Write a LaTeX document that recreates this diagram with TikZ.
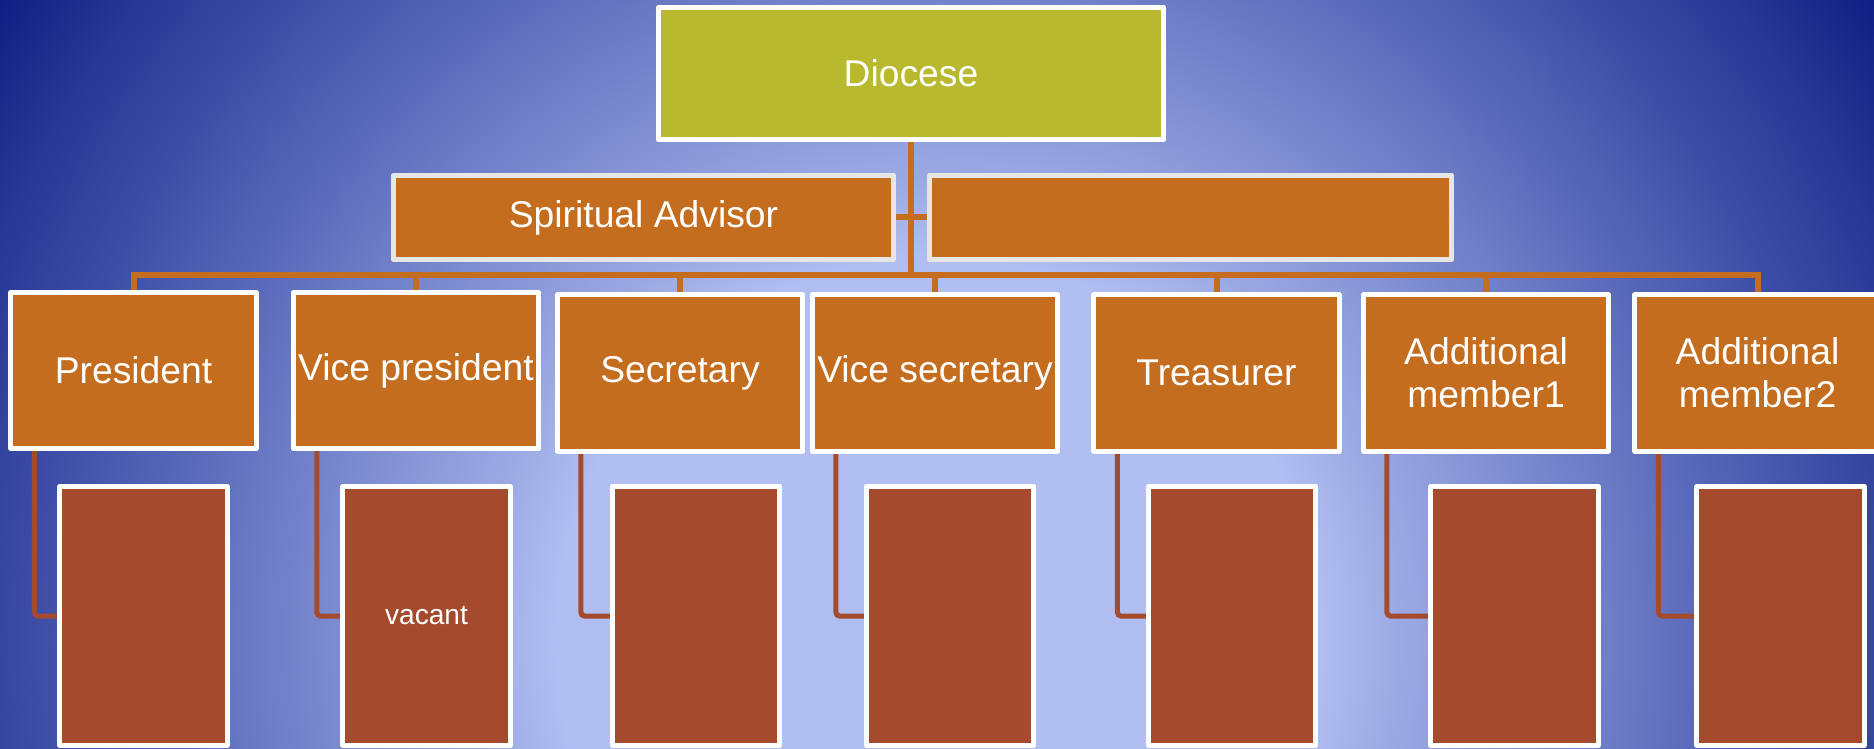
\documentclass[tikz,border=0pt]{standalone}
\usepackage{fontspec}
\setmainfont{Liberation Sans}

\definecolor{bgcore}{HTML}{B0BEF2}
\definecolor{bgsoft}{HTML}{9AA8E2}
\definecolor{bgmid}{HTML}{7282CA}
\definecolor{bgdeep}{HTML}{3E4EA6}
\definecolor{bgdark}{HTML}{2B3C98}
\definecolor{bgnavy}{HTML}{0E1F82}
\definecolor{olivebox}{HTML}{B9B930}
\definecolor{rust}{HTML}{C46D1F}
\definecolor{brick}{HTML}{A44B2E}
\definecolor{rim}{HTML}{E6E6E6}

\pgfdeclareradialshading{slideglow}{\pgfpoint{0bp}{0bp}}{%
  color(0bp)=(bgcore); color(8.4bp)=(bgcore); color(10.3bp)=(bgsoft);
  color(14.3bp)=(bgmid); color(19.8bp)=(bgdeep); color(22bp)=(bgdark);
  color(25bp)=(bgnavy); color(50bp)=(bgnavy)}

\pgfdeclarelayer{back}
\pgfdeclarelayer{wires}
\pgfsetlayers{back,wires,main}

\begin{document}
\begin{tikzpicture}[x=0.01cm, y=-0.01cm, line join=round,
  every node/.style={font=\fontsize{10.6}{12.2}\selectfont, text=white, inner sep=0pt, align=center},
  head/.style={draw=white, line width=0.05cm, fill=olivebox},
  adviser/.style={draw=rim, line width=0.05cm, fill=rust, minimum height=0.84cm},
  office/.style={draw=white, line width=0.05cm, fill=rust, minimum width=2.45cm, minimum height=1.56cm},
  holder/.style={draw=white, line width=0.05cm, fill=brick, minimum width=1.67cm, minimum height=2.59cm},
  link/.style={draw=rust, line width=0.06cm},
  sublink/.style={draw=brick, line width=0.05cm, rounded corners=1pt}]
  \useasboundingbox (0,0) rectangle (1874,749);
  \begin{pgfonlayer}{back}
    \clip (0,0) rectangle (1874,749);
    \shade[shading=slideglow] (-198,-495) rectangle (2072,1775);
  \end{pgfonlayer}

  \node[head, minimum width=5.05cm, minimum height=1.32cm] (dio) at (911,73.5) {Diocese};
  \node[adviser, minimum width=5cm] (spirit) at (643.5,217.5) {Spiritual Advisor};
  \node[adviser, minimum width=5.22cm] (aide) at (1190.5,217.5) {};

  \node[office] (pres) at (133.5,370.5) {President};
  \node[office] (vpres) at (416,370.5) {Vice president};
  \node[office] (sec) at (680,373) {Secretary};
  \node[office] (vsec) at (935,373) {Vice secretary};
  \node[office] (treas) at (1216.5,373) {Treasurer};
  \node[office] (addA) at (1486,373) {Additional\\member1};
  \node[office] (addB) at (1757.5,373) {Additional\\member2};

  \node[holder] (pres-seat) at (143.5,616) {};
  \node[holder] (vpres-seat) at (426.5,616) {\fontsize{8}{9}\selectfont vacant};
  \node[holder] (sec-seat) at (696,616) {};
  \node[holder] (vsec-seat) at (950,616) {};
  \node[holder] (treas-seat) at (1232,616) {};
  \node[holder] (addA-seat) at (1514.5,616) {};
  \node[holder] (addB-seat) at (1780.5,616) {};

  \coordinate (bus) at (911,275);
  \begin{pgfonlayer}{wires}
    \draw[link] (dio.south) -- (bus);
    \draw[link] (spirit.east) -- (aide.west);
    \foreach \n in {pres,vpres,sec,vsec,treas,addA,addB}
      \draw[link] (bus) -| (\n.north);
    \foreach \n in {pres,vpres,sec,vsec,treas,addA,addB}
      \draw[sublink] (\n.south west) ++(26,0) |- (\n-seat.west);
  \end{pgfonlayer}
\end{tikzpicture}
\end{document}
